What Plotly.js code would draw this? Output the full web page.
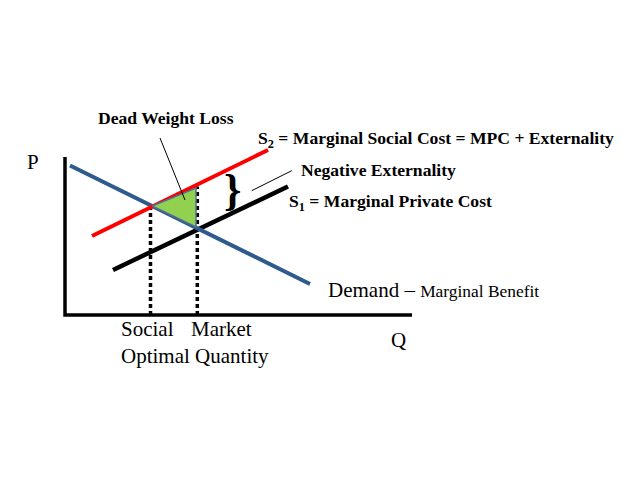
<!DOCTYPE html>
<html>
<head>
<meta charset="utf-8">
<script src="https://cdn.plot.ly/plotly-3.0.1.min.js"></script>
<style>html,body{margin:0;padding:0;background:#fff;}#chart{width:640px;height:480px;}</style>
</head>
<body>
<div id="chart"></div>
<script>
// Quantity (Q) and price (P) values
var axisQ = [0, 0, 347];
var axisP = [158, 0, 0];
var demandQ = [5, 245];
var demandP = [149.5, 31];
var mscQ = [27, 203];      // S2 = marginal social cost
var mscP = [79, 165];
var mpcQ = [48, 223];      // S1 = marginal private cost
var mpcP = [45, 128.5];
var socialQ = [85.5, 85.5];
var socialP = [0, 109];
var marketQ = [132.3, 132.3];
var marketP = [0, 128.5];
var dwlQ = [87, 131, 131, 87];
var dwlP = [109, 127, 88, 109];
var dwlPointerQ = [95, 120];
var dwlPointerP = [177, 115];
var extPointerQ = [186.7, 226.7];
var extPointerP = [124.3, 144.3];

var serif = "Liberation Serif, Times New Roman, serif";

function line(q, p, color, width, dash) {
  return {x: q, y: p, type: 'scatter', mode: 'lines', hoverinfo: 'skip', showlegend: false,
    line: {color: color, width: width, dash: dash || 'solid'}};
}

var traces = [
  line(socialQ, socialP, '#000000', 3.5, '4px,3px'),
  line(marketQ, marketP, '#000000', 3.5, '4px,3px'),
  line(mpcQ, mpcP, '#000000', 4.5),
  line(demandQ, demandP, '#2F5B8C', 4),
  line(mscQ, mscP, '#FF0000', 4),
  {x: dwlQ, y: dwlP, type: 'scatter', mode: 'lines', fill: 'toself', fillcolor: '#92D050',
   hoverinfo: 'skip', showlegend: false, line: {color: '#4F6E95', width: 1.5}},
  line(dwlPointerQ, dwlPointerP, '#000000', 1),
  line(extPointerQ, extPointerP, '#000000', 1),
  line(axisQ, axisP, '#000000', 3.5)
];

function note(text, q, p, size, bold, xanchor) {
  return {x: q, y: p, xref: 'x', yref: 'y', showarrow: false, text: bold ? '<b>' + text + '</b>' : text,
    xanchor: xanchor || 'left', yanchor: 'middle',
    font: {family: serif, size: size, color: '#000000'}};
}

var annotations = [
  note('Dead Weight Loss', 100.5, 197, 17.6, true, 'center'),
  note('S<sub>2</sub> = Marginal Social Cost = MPC + Externality', 191, 176, 17.6, true),
  note('Negative Externality', 234, 145, 17.6, true),
  note('S<sub>1</sub> = Marginal Private Cost', 222, 113, 17.6, true),
  note('Demand – <span style="font-size:17.4px">Marginal Benefit</span>', 261, 25, 21, false),
  note('Social', 54, -14, 21, false),
  note('Market', 124, -14, 21, false),
  note('Optimal Quantity', 54, -41, 21, false),
  note('Q', 333, -25, 21, false, 'center'),
  note('P', -32, 153, 21, false, 'center'),
  note('}', 167, 125, 44, true, 'center')
];

var layout = {
  width: 640, height: 480, autosize: false,
  margin: {l: 0, r: 0, t: 0, b: 0, pad: 0},
  paper_bgcolor: '#ffffff', plot_bgcolor: '#ffffff',
  xaxis: {range: [-65, 575], visible: false, fixedrange: true},
  yaxis: {range: [-165, 315], visible: false, fixedrange: true},
  annotations: annotations
};

Plotly.newPlot('chart', traces, layout, {staticPlot: true, displayModeBar: false});
</script>
</body>
</html>
